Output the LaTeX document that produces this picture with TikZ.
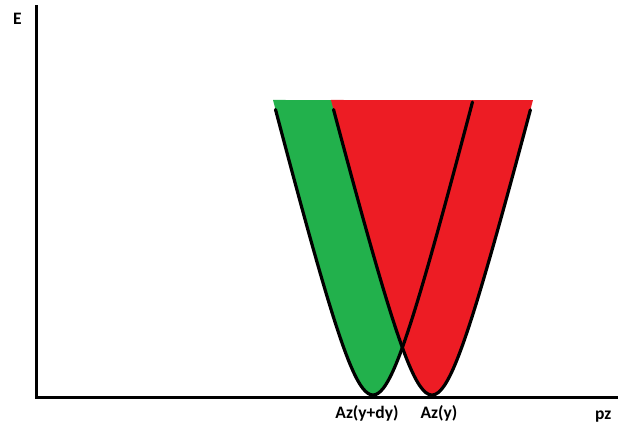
\documentclass[tikz,border=0pt]{standalone}
\usepackage{fontspec}
\setmainfont{Carlito}
\definecolor{pgreen}{HTML}{22B14C}
\definecolor{pred}{HTML}{ED1C24}
\begin{document}
\begin{tikzpicture}[x=1pt,y=-1pt,
  lbl/.style={font=\fontsize{17.5}{20}\selectfont\bfseries, inner sep=0pt},
  axisline/.style={line width=3pt, line join=miter},
  arm/.style={line width=3.2pt, line cap=round},
  declare function={hy(\t)=(sqrt(\t*\t+0.09)-0.3)/0.74403;}]
\useasboundingbox (0,0) rectangle (618,429);
% fills
\fill[pgreen] plot[domain=-1:1, samples=80, smooth, variable=\t] ({373+100*\t},{395-295*hy(\t)}) -- cycle;
\fill[pred] plot[domain=-1:1, samples=80, smooth, variable=\t] ({432+101*\t},{395-295*hy(\t)}) -- cycle;
% outlines
\draw[arm] plot[domain=-0.975:0.995, samples=80, smooth, variable=\t] ({373+100*\t},{395-295*hy(\t)});
\draw[arm] plot[domain=-0.975:0.975, samples=80, smooth, variable=\t] ({432+101*\t},{395-295*hy(\t)});
% axes
\coordinate (ytop) at (36.5,5);
\coordinate (origin) at (36.5,397.5);
\coordinate (xend) at (618,397.5);
\draw[axisline] (ytop) -- (origin) -- (xend);
% labels
\node[lbl, anchor=base west] (E) at (13,24) {E};
\node[lbl, anchor=base] (azdy) at (367,418) {Az(y+dy)};
\node[lbl, anchor=base] (az) at (439,418) {Az(y)};
\node[lbl, anchor=base west] (pz) at (595,419) {pz};
\end{tikzpicture}
\end{document}
